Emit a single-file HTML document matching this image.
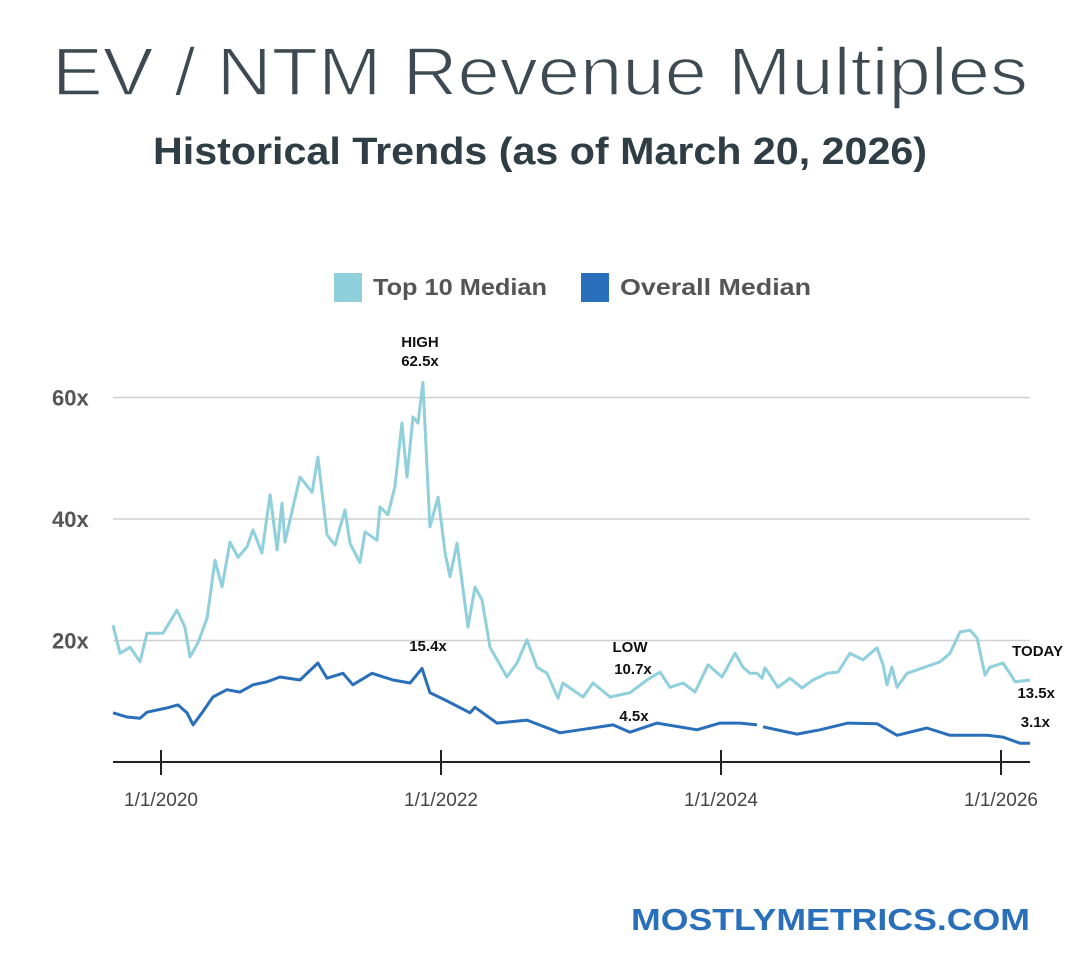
<!DOCTYPE html>
<html><head><meta charset="utf-8"><style>
html,body{margin:0;padding:0;background:#fff;}
svg{display:block;font-family:"Liberation Sans",sans-serif;}
</style></head><body>
<svg id="chart" width="1080" height="973" viewBox="0 0 1080 973">
<text x="540" y="95" text-anchor="middle" font-size="68" fill="#3d4a52" stroke="#fff" stroke-width="1.6" textLength="976" lengthAdjust="spacingAndGlyphs">EV / NTM Revenue Multiples</text>
<text x="540" y="164" text-anchor="middle" font-size="38" font-weight="bold" fill="#2f3d45" textLength="774" lengthAdjust="spacingAndGlyphs">Historical Trends (as of March 20, 2026)</text>
<g>
<rect x="334" y="273" width="28" height="29" fill="#8fd0dc"/>
<text x="373" y="295" font-size="23" font-weight="bold" fill="#555" textLength="174" lengthAdjust="spacingAndGlyphs">Top 10 Median</text>
<rect x="581" y="273" width="28" height="29" fill="#2a6fba"/>
<text x="620" y="295" font-size="23" font-weight="bold" fill="#555" textLength="191" lengthAdjust="spacingAndGlyphs">Overall Median</text>
</g>
<g id="grid"></g>
<g id="axis"></g>
<g id="series"></g>
<g id="ann"></g>
<text x="1030" y="930" text-anchor="end" font-size="31" font-weight="bold" fill="#2a6fba" textLength="399" lengthAdjust="spacingAndGlyphs">MOSTLYMETRICS.COM</text>
</svg>
<script>
const yTicks=[20,40,60];
const yTickLabels=["20x","40x","60x"];
const xTicks=[2020,2022,2024,2026];
const xTickLabels=["1/1/2020","1/1/2022","1/1/2024","1/1/2026"];
const top10Px=[113,120,130,140,147,163,177,185,190,198,207,215,222,230,238,247,253,262,270,277,282,285,293,300,312,318,327,335,345,350,360,365,377,380,388,395,402,407,413,418,423,430,438,445,450,457,468,475,482,490,507,517,527,537,547,558,563,583,593,610,630,647,660,670,683,695,708,722,735,743,750,757,762,765,778,790,802,813,827,838,850,863,877,883,887,892,897,907,923,940,950,960,970,977,985,990,1003,1013,1015,1030];
const top10Dates=top10Px.map(p=>+(2020+(p-161)/140).toFixed(3));
const top10Values=[22.5,17.9,18.9,16.5,21.2,21.2,25,22.2,17.3,19.6,23.7,33.2,28.8,36.2,33.7,35.4,38.2,34.4,44,34.9,42.6,36.2,42,46.9,44.4,50.2,37.4,35.7,41.5,36,32.8,37.9,36.5,42,40.7,45.3,55.8,46.9,56.8,55.8,62.5,38.7,43.6,34.4,30.5,36,22.2,28.8,26.7,18.9,14,16.3,20.1,15.6,14.6,10.5,13,10.7,13,10.7,11.4,13.5,14.8,12.3,13,11.5,16,14,17.9,15.6,14.6,14.6,13.8,15.5,12.3,13.8,12.2,13.5,14.6,14.8,17.9,16.8,18.8,16,12.7,15.6,12.3,14.6,15.5,16.5,17.9,21.4,21.7,20.4,14.3,15.6,16.3,13.8,13.2,13.5];
const overallPx=[113,127,140,147,167,178,187,193,202,213,227,240,253,267,280,300,318,327,343,353,372,393,410,422,430,445,470,475,497,527,560,580,613,630,657,697,720,740,757,763,797,820,848,877,897,927,950,987,1003,1020,1030];
const overallDates=overallPx.map(p=>+(2020+(p-161)/140).toFixed(3));
const overallValues=[8.1,7.4,7.2,8.2,8.9,9.4,8.1,6.1,8.1,10.7,11.9,11.5,12.7,13.2,14,13.5,16.3,13.8,14.6,12.7,14.6,13.5,13,15.4,11.4,10.2,8.1,9,6.4,6.9,4.8,5.3,6.1,4.9,6.4,5.3,6.4,6.4,6.1,5.8,4.6,5.3,6.4,6.3,4.4,5.6,4.4,4.4,4.1,3.1,3.1];
const gapStart=2024.26, gapEnd=2024.30;

const NS="http://www.w3.org/2000/svg";
const X=d=>161+(d-2020)*140;
const Y=v=>762-v*6.075;
function mk(tag,attrs,parent){const e=document.createElementNS(NS,tag);for(const k in attrs)e.setAttribute(k,attrs[k]);parent.appendChild(e);return e;}
const grid=document.getElementById('grid'),axis=document.getElementById('axis'),series=document.getElementById('series'),ann=document.getElementById('ann');
yTicks.forEach((t,i)=>{
 const l=mk('line',{x1:113,x2:1030,y1:Y(t),y2:Y(t),stroke:'#cfcfcf','stroke-width':1.5},grid);
 
 
 const tx=mk('text',{x:52,y:Y(t)+8,'font-size':22,'font-weight':'bold',fill:'#555'},grid);
 tx.textContent=yTickLabels[i];
 
 
});
const base=mk('line',{x1:113,x2:1030,y1:762,y2:762,stroke:'#222','stroke-width':2},axis);


xTicks.forEach((t,i)=>{
 const l=mk('line',{x1:X(t),x2:X(t),y1:750,y2:775,stroke:'#222','stroke-width':2},axis);
 
 
 const tx=mk('text',{x:X(t),y:806,'text-anchor':'middle','font-size':19,fill:'#444'},axis);
 tx.textContent=xTickLabels[i];
 
 
});
function path(dates,vals){let d='',pen=false;for(let i=0;i<dates.length;i++){if(i>0&&dates[i-1]<=gapStart&&dates[i]>=gapEnd-0.001&&dates[i]-dates[i-1]<0.1&&dates[i-1]>=gapStart-0.02){pen=false;}d+=(pen?'L':'M')+X(dates[i]).toFixed(1)+' '+Y(vals[i]).toFixed(1);pen=true;}return d;}
const p1=mk('path',{d:path(top10Dates,top10Values),fill:'none',stroke:'#8fd0dc','stroke-width':3,'stroke-linejoin':'round'},series);


const p2=mk('path',{d:path(overallDates,overallValues),fill:'none',stroke:'#2a6fba','stroke-width':3,'stroke-linejoin':'round'},series);


const notes=[["HIGH",420,347,"middle","annotation-high"],["62.5x",420,366,"middle","annotation-high-value"],["15.4x",428,651,"middle","annotation-overall-high"],["LOW",630,652,"middle","annotation-low"],["10.7x",633,674,"middle","annotation-low-value"],["4.5x",634,721,"middle","annotation-overall-low"],["TODAY",1063,656,"end","annotation-today"],["13.5x",1055,698,"end","annotation-today-top10"],["3.1x",1050,727,"end","annotation-today-overall"]];
notes.forEach(n=>{
 const t=mk('text',{x:n[1],y:n[2],'text-anchor':n[3],'font-size':15,'font-weight':'bold',fill:'#111'},ann);
 t.textContent=n[0];
 
 
});
</script>
</body></html>
